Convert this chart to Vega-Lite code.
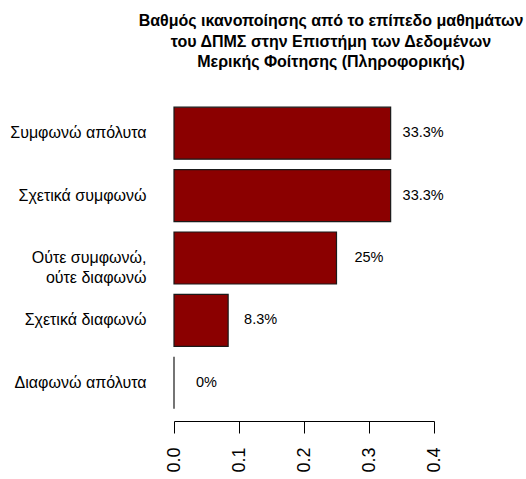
{
  "$schema": "https://vega.github.io/schema/vega-lite/v6.json",
  "autosize": {"type": "none"},
  "padding": {"left": 174, "top": 102, "right": 92, "bottom": 65},
  "width": 260,
  "height": 312,
  "background": "white",
  "config": {
    "view": {"stroke": null},
    "font": "Liberation Sans",
    "axis": {"labelFont": "Liberation Sans", "labelColor": "black"}
  },
  "title": {
    "text": ["Βαθμός ικανοποίησης από το επίπεδο μαθημάτων", "του ΔΠΜΣ στην Επιστήμη των Δεδομένων", "Μερικής Φοίτησης (Πληροφορικής)"],
    "font": "Liberation Sans",
    "fontSize": 16,
    "fontWeight": "bold",
    "color": "black",
    "anchor": "middle",
    "frame": "group",
    "dx": 27,
    "lineHeight": 20.5,
    "offset": 32
  },
  "data": {
    "values": [
      {"category": "Συμφωνώ απόλυτα", "value": 0.3333, "label": "33.3%"},
      {"category": "Σχετικά συμφωνώ", "value": 0.3333, "label": "33.3%"},
      {"category": "Ούτε συμφωνώ, ούτε διαφωνώ", "value": 0.25, "label": "25%"},
      {"category": "Σχετικά διαφωνώ", "value": 0.0833, "label": "8.3%"},
      {"category": "Διαφωνώ απόλυτα", "value": 0, "label": "0%"}
    ]
  },
  "encoding": {
    "y": {
      "field": "category",
      "type": "nominal",
      "sort": null,
      "scale": {"paddingInner": 0.1667, "paddingOuter": 0.0833},
      "axis": {
        "title": null,
        "domain": false,
        "ticks": false,
        "labelPadding": 28,
        "labelFontSize": 16,
        "labelLineHeight": 20,
        "labelExpr": "datum.label == 'Ούτε συμφωνώ, ούτε διαφωνώ' ? ['Ούτε συμφωνώ,', 'ούτε διαφωνώ'] : datum.label"
      }
    },
    "x": {
      "field": "value",
      "type": "quantitative",
      "scale": {"domain": [0, 0.4], "nice": false, "zero": true},
      "axis": {
        "title": null,
        "grid": false,
        "values": [0, 0.1, 0.2, 0.3, 0.4],
        "format": ".1f",
        "labelAngle": 270,
        "labelAlign": "right",
        "labelBaseline": "middle",
        "labelFontSize": 18,
        "labelPadding": 14,
        "offset": 7,
        "tickSize": 12,
        "tickColor": "black",
        "domainColor": "black",
        "labelFlush": false,
        "labelOverlap": false
      }
    }
  },
  "layer": [
    {
      "mark": {"type": "bar", "fill": "#8B0000", "stroke": "#1a1a1a", "strokeWidth": 1.2}
    },
    {
      "mark": {"type": "text", "align": "center", "baseline": "middle", "dx": 32.5, "fontSize": 14.5, "color": "black", "font": "Liberation Sans"},
      "encoding": {"text": {"field": "label"}}
    }
  ]
}
